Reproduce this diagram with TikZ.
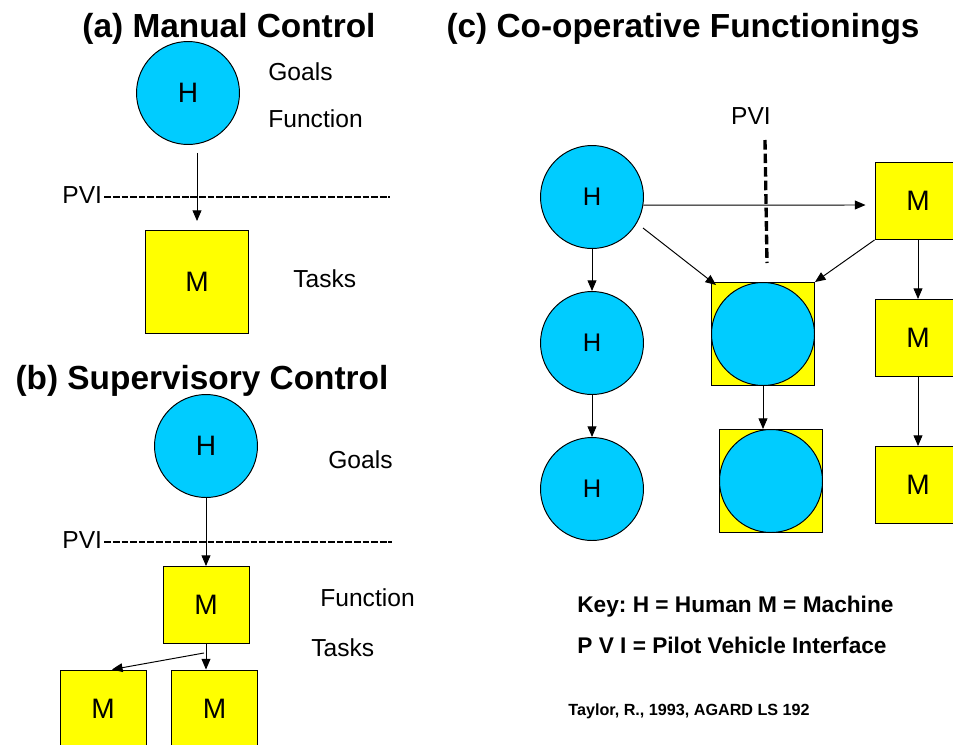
\documentclass[tikz,border=0pt]{standalone}
\usepackage{fontspec}
\setmainfont{Liberation Sans}
\usepackage{tikz}
\usetikzlibrary{arrows.meta,positioning,calc}
\tikzset{>={Triangle[length=6pt,width=5pt]}}
\definecolor{humancyan}{HTML}{00CCFF}
\definecolor{machineyellow}{HTML}{FFFF00}
\frenchspacing

\begin{document}
\begin{tikzpicture}[
    x=0.02cm, y=-0.02cm,
    human/.style={circle, draw, fill=humancyan, minimum size=2.06cm,
        inner sep=0pt, line width=0.55pt, font=\fontsize{16}{18}\selectfont},
    machine/.style={rectangle, draw, fill=machineyellow, minimum width=1.72cm,
        minimum height=1.54cm, inner sep=0pt, line width=0.55pt,
        font=\fontsize{16}{18}\selectfont},
    bigmachine/.style={machine, minimum width=2.06cm, minimum height=2.06cm},
    heading/.style={anchor=base, inner sep=0pt, font=\fontsize{19}{22}\selectfont\bfseries},
    note/.style={anchor=base west, inner sep=0pt, font=\fontsize{14}{16}\selectfont},
    keytext/.style={anchor=base west, inner sep=0pt, font=\fontsize{12.9}{15}\selectfont\bfseries},
    pviline/.style={dash pattern=on 3.8pt off 1.1pt, line width=1.1pt},
    arrow/.style={->, line width=0.55pt}
]
    \useasboundingbox (0,0) rectangle (953,744);

    % (a) manual control
    \node[heading] (ta) at (229,37) {(a) Manual Control};
    \node[human] (Ha) at (188,93) {H};
    \node[note] (goalsa) at (268,80) {Goals};
    \node[note] (funca) at (268,127) {Function};
    \node[note] (pvia) at (62,203) {PVI};
    \coordinate (pviaend) at (390,196);
    \draw[pviline] ($(pvia.east)+(2,2)$) -- ($(pvia.east -| pviaend)+(0,2)$);
    \node[bigmachine] (Ma) at (197,282) {M};
    \node[note] (tasksa) at (293,287) {Tasks};
    \draw[arrow] ($(Ha.south)+(9,8)$) -- ($(Ma.north)+(0,-9)$);

    % (b) supervisory control
    \node[heading] (tb) at (202,389) {(b) Supervisory Control};
    \node[human] (Hb) at (206,446) {H};
    \node[note] (goalsb) at (328,468) {Goals};
    \node[note] (pvib) at (62,548) {PVI};
    \coordinate (pvibend) at (392,541);
    \draw[pviline] ($(pvib.east)+(2,2)$) -- ($(pvib.east -| pvibend)+(0,2)$);
    \node[machine] (Mb) at (206,605) {M};
    \node[note] (funcb) at (320,606) {Function};
    \node[note] (tasksb) at (311,656) {Tasks};
    \node[machine] (Mbl) at (103,708.5) {M};
    \node[machine] (Mbr) at (214.5,708.5) {M};
    \draw[arrow] (Hb) -- (Mb);
    \draw[arrow] (Mb.south) -- (Mb.south |- Mbr.north);
    \draw[arrow] ($(Mb.south)+(-2,9)$) -- ($(Mbl.north)+(9,0)$);

    % (c) co-operative functionings
    \node[heading] (tc) at (683,37) {(c) Co-operative Functionings};
    \node[note, anchor=base] (pvic) at (751,124) {PVI};
    \coordinate (pvictop) at (765,140);
    \coordinate (pvicbot) at (767,263);
    \draw[dash pattern=on 5.5pt off 2.2pt, line width=1.9pt] (pvictop) -- (pvicbot);

    \node[human, font=\fontsize{14.5}{17}\selectfont] (H1) at (592,197) {H};
    \node[human, font=\fontsize{14.5}{17}\selectfont] (H2) at (592,343) {H};
    \node[human, font=\fontsize{14.5}{17}\selectfont] (H3) at (592,489) {H};
    \node[machine] (M1) at (918,201) {M};
    \node[machine] (M2) at (918,338) {M};
    \node[machine] (M3) at (918,485) {M};
    \node[bigmachine] (HM1) at (763,334) {};
    \node[human] (HM1c) at (763,334) {};
    \node[bigmachine] (HM2) at (771,481) {};
    \node[human] (HM2c) at (771,481) {};

    \draw[arrow] (H1) -- (H2);
    \draw[arrow] (H2) -- (H3);
    \draw[arrow] (M1) -- (M2);
    \draw[arrow] (M2) -- (M3);
    \draw[arrow] (H1.-9) -- ($(M1.west)+(-9,4)$);
    \draw[arrow] ($(H1)+(51,31)$) -- ($(HM1.north west)+(5,3)$);
    \draw[arrow] (M1.south west) -- (HM1.north east);
    \draw[arrow] (HM1.south) -- (HM1.south |- HM2.north);

    \node[keytext] (key1) at (577,612) {Key: H = Human M = Machine};
    \node[keytext] (key2) at (577,653) {P V I = Pilot Vehicle Interface};
    \node[keytext, font=\fontsize{9.2}{11}\selectfont\bfseries] (source) at (568,715) {Taylor, R., 1993, AGARD LS 192};
\end{tikzpicture}
\end{document}
